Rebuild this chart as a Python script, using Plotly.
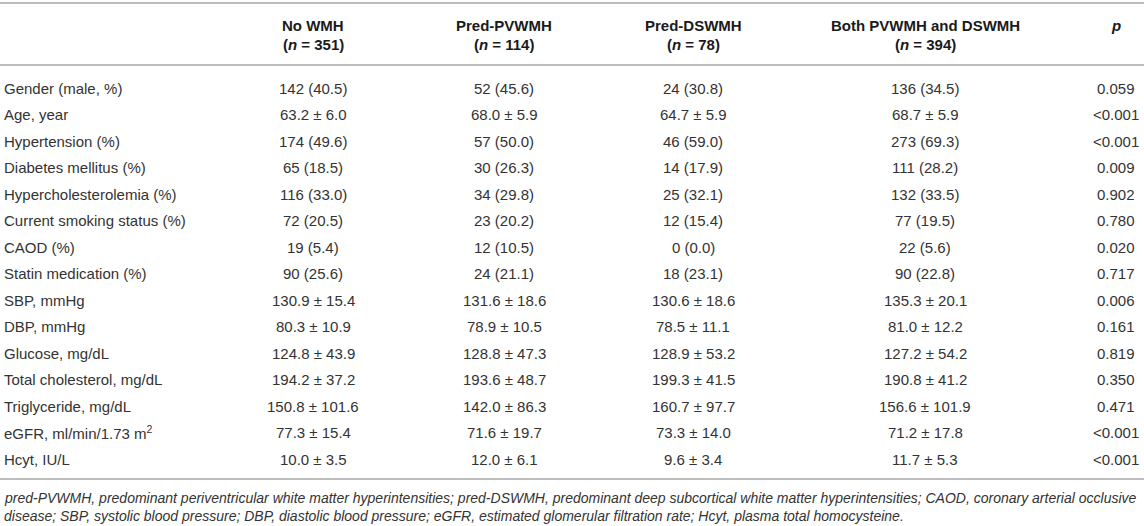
import plotly.graph_objects as go

# table content
groups = ["No WMH", "Pred-PVWMH", "Pred-DSWMH", "Both PVWMH and DSWMH"]
group_n = [351, 114, 78, 394]

row_labels = [
    "Gender (male, %)", "Age, year", "Hypertension (%)", "Diabetes mellitus (%)",
    "Hypercholesterolemia (%)", "Current smoking status (%)", "CAOD (%)",
    "Statin medication (%)", "SBP, mmHg", "DBP, mmHg", "Glucose, mg/dL",
    "Total cholesterol, mg/dL", "Triglyceride, mg/dL",
    "eGFR, ml/min/1.73 m<sup>2</sup>", "Hcyt, IU/L",
]

no_wmh = ["142 (40.5)", "63.2 ± 6.0", "174 (49.6)", "65 (18.5)", "116 (33.0)",
          "72 (20.5)", "19 (5.4)", "90 (25.6)", "130.9 ± 15.4", "80.3 ± 10.9",
          "124.8 ± 43.9", "194.2 ± 37.2", "150.8 ± 101.6", "77.3 ± 15.4", "10.0 ± 3.5"]
pred_pv = ["52 (45.6)", "68.0 ± 5.9", "57 (50.0)", "30 (26.3)", "34 (29.8)",
           "23 (20.2)", "12 (10.5)", "24 (21.1)", "131.6 ± 18.6", "78.9 ± 10.5",
           "128.8 ± 47.3", "193.6 ± 48.7", "142.0 ± 86.3", "71.6 ± 19.7", "12.0 ± 6.1"]
pred_ds = ["24 (30.8)", "64.7 ± 5.9", "46 (59.0)", "14 (17.9)", "25 (32.1)",
           "12 (15.4)", "0 (0.0)", "18 (23.1)", "130.6 ± 18.6", "78.5 ± 11.1",
           "128.9 ± 53.2", "199.3 ± 41.5", "160.7 ± 97.7", "73.3 ± 14.0", "9.6 ± 3.4"]
both = ["136 (34.5)", "68.7 ± 5.9", "273 (69.3)", "111 (28.2)", "132 (33.5)",
        "77 (19.5)", "22 (5.6)", "90 (22.8)", "135.3 ± 20.1", "81.0 ± 12.2",
        "127.2 ± 54.2", "190.8 ± 41.2", "156.6 ± 101.9", "71.2 ± 17.8", "11.7 ± 5.3"]
p_values = ["0.059", "<0.001", "<0.001", "0.009", "0.902", "0.780", "0.020",
            "0.717", "0.006", "0.161", "0.819", "0.350", "0.471", "<0.001", "<0.001"]

footnote = [
    "pred-PVWMH, predominant periventricular white matter hyperintensities; "
    "pred-DSWMH, predominant deep subcortical white matter hyperintensities; "
    "CAOD, coronary arterial occlusive",
    "disease; SBP, systolic blood pressure; DBP, diastolic blood pressure; "
    "eGFR, estimated glomerular filtration rate; Hcyt, plasma total homocysteine.",
]

# layout (pixel space)
W, H = 1144, 526
col_x = [313, 504, 693, 925]
p_x = 1116
label_x = 2
row_y0 = 88
row_dy = 26.5
rule_top, rule_head, rule_bottom = 3, 65, 479
head_y = [25, 44]
foot_y = [498, 516]

FONT = "Liberation Sans, Arial, Helvetica, sans-serif"
TXT = "#333333"
RULE = "#bdbdbd"
FS = 15

fig = go.Figure()
ann = []

def add(x, y, text, anchor="center", size=FS, color=TXT):
    ann.append(dict(x=x, y=y, xref="x", yref="y", text=text, showarrow=False,
                    xanchor=anchor, yanchor="middle",
                    font=dict(family=FONT, size=size, color=color)))

# header
for x, g, n in zip(col_x, groups, group_n):
    add(x, head_y[0], "<b>%s</b>" % g, color="#1a1a1a")
    add(x, head_y[1], "<b>(<i>n</i> = %d)</b>" % n, color="#1a1a1a")
add(p_x, head_y[0], "<b><i>p</i></b>", color="#1a1a1a")

# body
cols = [no_wmh, pred_pv, pred_ds, both]
for i, lab in enumerate(row_labels):
    y = row_y0 + i * row_dy
    add(label_x, y, lab, anchor="left")
    for x, c in zip(col_x, cols):
        add(x, y, c[i])
    add(p_x, y, p_values[i].replace("<", "&lt;"))

# footnote
for y, t in zip(foot_y, footnote):
    add(label_x, y, "<i>%s</i>" % t, anchor="left", size=14)

shapes = []
for y in [rule_top, rule_head, rule_bottom]:
    shapes.append(dict(type="line", xref="x", yref="y", x0=0, x1=W, y0=y, y1=y,
                       line=dict(color=RULE, width=2)))

fig.update_layout(
    width=W, height=H,
    margin=dict(l=0, r=0, t=0, b=0),
    paper_bgcolor="white", plot_bgcolor="white",
    xaxis=dict(range=[0, W], visible=False, fixedrange=True),
    yaxis=dict(range=[H, 0], visible=False, fixedrange=True),
    annotations=ann, shapes=shapes, showlegend=False,
)

fig.write_html("out.html", config={"displayModeBar": False},
               post_script="document.body.style.margin='0';")
